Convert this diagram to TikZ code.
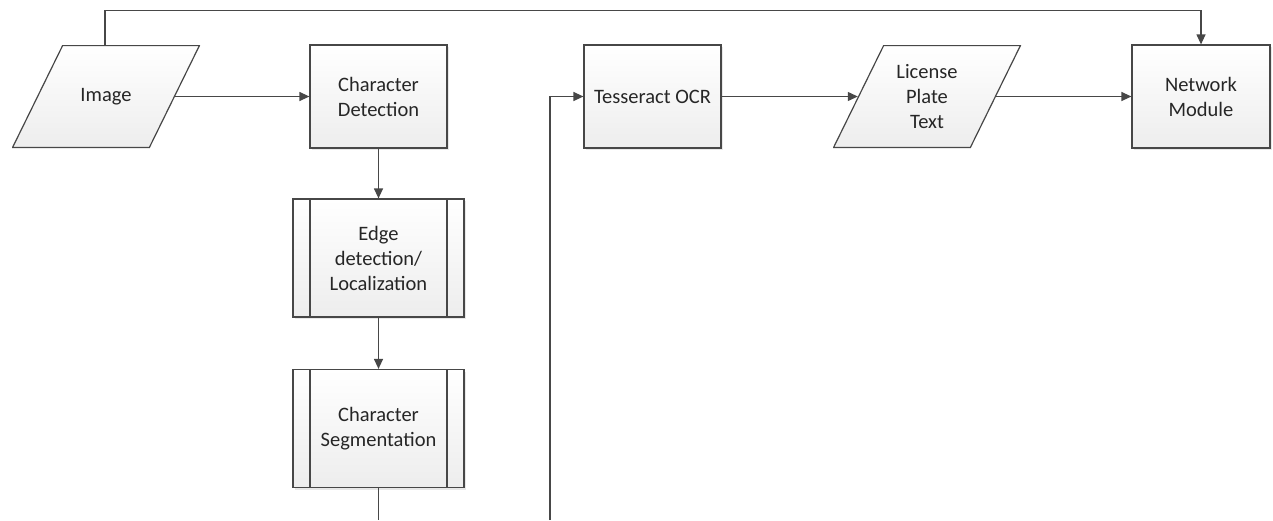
\documentclass[tikz,border=0pt]{standalone}
\usepackage{fontspec}
\setmainfont{Carlito}
\usepackage{xcolor}
\usepackage{tikz}
\usetikzlibrary{arrows.meta,positioning,calc,shapes.geometric,shadows}

\definecolor{linegray}{HTML}{474747}
\definecolor{boxgray}{HTML}{EDEDED}

\tikzset{
	label text/.style={text=black!85, align=center, inner sep=0pt,
		font=\fontsize{20.5}{25}\selectfont},
	base/.style={label text, draw=linegray, line width=1.2pt, top color=white, bottom color=boxgray,
		drop shadow={shadow xshift=2pt, shadow yshift=-2pt, opacity=0.18}},
	procbox/.style={base, rectangle, minimum width=137pt, minimum height=103pt},
	subbox/.style={base, rectangle, minimum width=171pt, minimum height=118pt,
		path picture={
			\draw[linegray, line width=1.2pt]
				([xshift=17pt]path picture bounding box.north west) -- ([xshift=17pt]path picture bounding box.south west)
				([xshift=-17pt]path picture bounding box.north east) -- ([xshift=-17pt]path picture bounding box.south east);
		}},
	% parallelogram drawn inside a plain rectangle node
	iobox/.style={label text, rectangle, minimum width=188pt, minimum height=103pt,
		path picture={
			\shadedraw[draw=linegray, line width=1.2pt, top color=white, bottom color=boxgray]
				([xshift=50.6pt, yshift=-0.6pt]path picture bounding box.north west)
				-- ([xshift=-0.6pt, yshift=-0.6pt]path picture bounding box.north east)
				-- ([xshift=-50.6pt, yshift=0.6pt]path picture bounding box.south east)
				-- ([xshift=0.6pt, yshift=0.6pt]path picture bounding box.south west) -- cycle;
		}},
	conn/.style={draw=linegray, line width=1.2pt},
	arr/.style={conn, -{Triangle[length=10pt, width=9pt]}}
}

\begin{document}
\begin{tikzpicture}[x=1pt, y=-1pt]
	\useasboundingbox (0,0) rectangle (1273,520);

	\node[iobox] (img) at (106,96.5) {Image};
	\node[procbox] (cd) at (378.5,96.5) {Character\\Detection};
	\node[subbox] (edge) at (378.5,258) {Edge\\detection/\\Localization};
	\node[subbox] (seg) at (378.5,428.5) {Character\\Segmentation};
	\node[procbox] (ocr) at (652.5,96.5) {Tesseract OCR};
	\node[iobox] (lpt) at (927,96.5) {License\\Plate\\Text};
	\node[procbox, minimum width=138pt] (net) at (1201,96.5) {Network\\Module};

	\coordinate (segout) at (378.5,520);
	\coordinate (ocrin) at (550,520);

	\draw[arr] ([xshift=-25pt]img.east) -- (cd.west);
	\draw[arr] (cd.south) -- (edge.north);
	\draw[arr] (edge.south) -- (seg.north);
	\draw[conn] (seg.south) -- (segout);
	\draw[arr] (ocrin) |- (ocr.west);
	\draw[arr] (ocr.east) -- ([xshift=25pt]lpt.west);
	\draw[arr] ([xshift=-25pt]lpt.east) -- (net.west);
	\draw[arr] ([xshift=-1pt]img.north) -- ++(0,-34) -| (net.north);
\end{tikzpicture}
\end{document}
